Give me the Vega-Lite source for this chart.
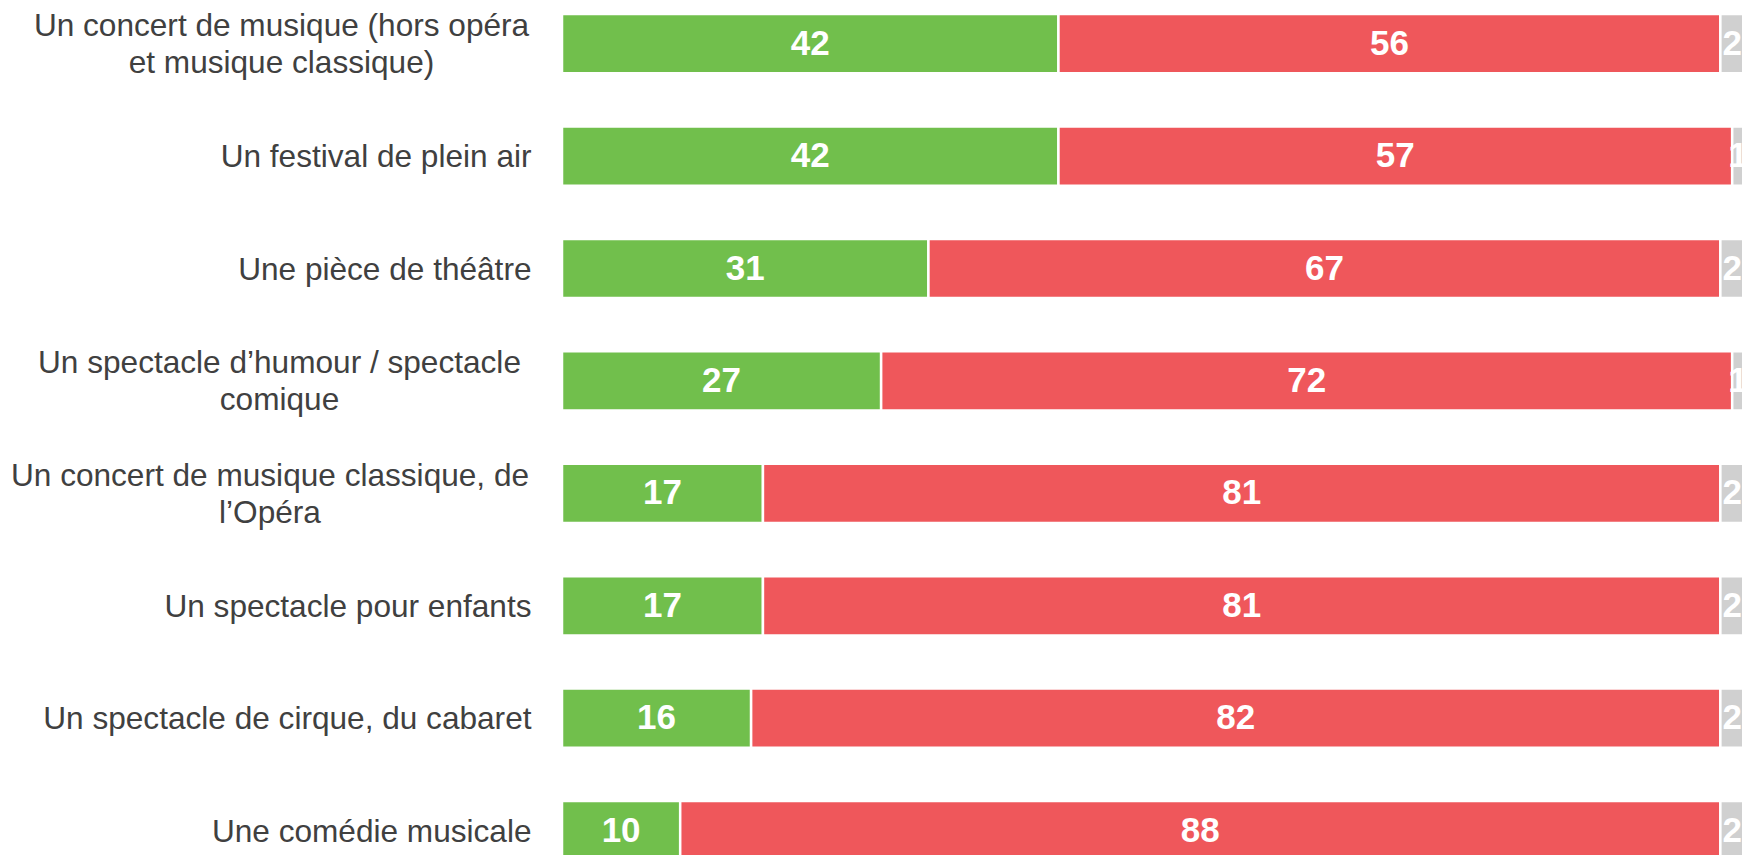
{
  "$schema": "https://vega.github.io/schema/vega-lite/v6.json",
  "autosize": {"type": "none"},
  "padding": {"left": 562, "top": 0, "right": 0, "bottom": 0},
  "width": 1180,
  "height": 855,
  "background": "white",
  "config": {"view": {"stroke": null}},
  "data": {"values": [
    {"cat": "Un concert de musique (hors opéra|et musique classique)", "rep": "Oui", "ord": 1, "val": 42},
    {"cat": "Un concert de musique (hors opéra|et musique classique)", "rep": "Non", "ord": 2, "val": 56},
    {"cat": "Un concert de musique (hors opéra|et musique classique)", "rep": "NSP", "ord": 3, "val": 2},
    {"cat": "Un festival de plein air", "rep": "Oui", "ord": 1, "val": 42},
    {"cat": "Un festival de plein air", "rep": "Non", "ord": 2, "val": 57},
    {"cat": "Un festival de plein air", "rep": "NSP", "ord": 3, "val": 1},
    {"cat": "Une pièce de théâtre", "rep": "Oui", "ord": 1, "val": 31},
    {"cat": "Une pièce de théâtre", "rep": "Non", "ord": 2, "val": 67},
    {"cat": "Une pièce de théâtre", "rep": "NSP", "ord": 3, "val": 2},
    {"cat": "Un spectacle d’humour / spectacle|comique", "rep": "Oui", "ord": 1, "val": 27},
    {"cat": "Un spectacle d’humour / spectacle|comique", "rep": "Non", "ord": 2, "val": 72},
    {"cat": "Un spectacle d’humour / spectacle|comique", "rep": "NSP", "ord": 3, "val": 1},
    {"cat": "Un concert de musique classique, de|l’Opéra", "rep": "Oui", "ord": 1, "val": 17},
    {"cat": "Un concert de musique classique, de|l’Opéra", "rep": "Non", "ord": 2, "val": 81},
    {"cat": "Un concert de musique classique, de|l’Opéra", "rep": "NSP", "ord": 3, "val": 2},
    {"cat": "Un spectacle pour enfants", "rep": "Oui", "ord": 1, "val": 17},
    {"cat": "Un spectacle pour enfants", "rep": "Non", "ord": 2, "val": 81},
    {"cat": "Un spectacle pour enfants", "rep": "NSP", "ord": 3, "val": 2},
    {"cat": "Un spectacle de cirque, du cabaret", "rep": "Oui", "ord": 1, "val": 16},
    {"cat": "Un spectacle de cirque, du cabaret", "rep": "Non", "ord": 2, "val": 82},
    {"cat": "Un spectacle de cirque, du cabaret", "rep": "NSP", "ord": 3, "val": 2},
    {"cat": "Une comédie musicale", "rep": "Oui", "ord": 1, "val": 10},
    {"cat": "Une comédie musicale", "rep": "Non", "ord": 2, "val": 88},
    {"cat": "Une comédie musicale", "rep": "NSP", "ord": 3, "val": 2}
  ]},
  "transform": [
    {"stack": "val", "groupby": ["cat"], "sort": [{"field": "ord"}], "as": ["v0", "v1"]},
    {"calculate": "(datum.v0 + datum.v1) / 2", "as": "vm"}
  ],
  "encoding": {
    "y": {
      "field": "cat", "type": "nominal", "sort": null,
      "scale": {"range": [14.05, 860.25], "paddingInner": 0.4734, "paddingOuter": 0},
      "axis": {
        "title": null, "domain": false, "ticks": false,
        "labelExpr": "split(datum.label, '|')",
        "labelFont": "Liberation Sans", "labelFontSize": 31.6, "labelColor": "#404040",
        "labelLineHeight": 36.7, "labelLimit": 700, "labelOverlap": false, "labelBound": false,
        "labelAlign": {"condition": {"test": "indexof(datum.value, '|') >= 0", "value": "center"}, "value": "right"},
        "labelOffset": {"condition": {"test": "indexof(datum.value, '|') >= 0", "value": -16.5}, "value": 2},
        "labelPadding": {"condition": [
          {"test": "indexof(datum.value, 'hors') >= 0", "value": 281},
          {"test": "indexof(datum.value, 'humour') >= 0", "value": 283},
          {"test": "indexof(datum.value, 'Opéra') >= 0", "value": 292.5}
        ], "value": 31}
      }
    }
  },
  "layer": [
    {
      "mark": {"type": "bar", "stroke": "white", "strokeWidth": 2.5, "clip": true},
      "encoding": {
        "x": {"field": "v0", "type": "quantitative", "scale": {"domain": [0, 99.83], "nice": false, "zero": false}, "axis": null},
        "x2": {"field": "v1"},
        "color": {"field": "rep", "type": "nominal", "scale": {"domain": ["Oui", "Non", "NSP"], "range": ["#71bf4c", "#ef575b", "#d0d0d0"]}, "legend": null}
      }
    },
    {
      "mark": {"type": "text", "color": "white", "font": "Liberation Sans", "fontWeight": "bold", "fontSize": 35, "align": "center", "baseline": "middle", "clip": true},
      "encoding": {
        "x": {"field": "vm", "type": "quantitative"},
        "text": {"field": "val", "type": "quantitative"}
      }
    }
  ]
}
